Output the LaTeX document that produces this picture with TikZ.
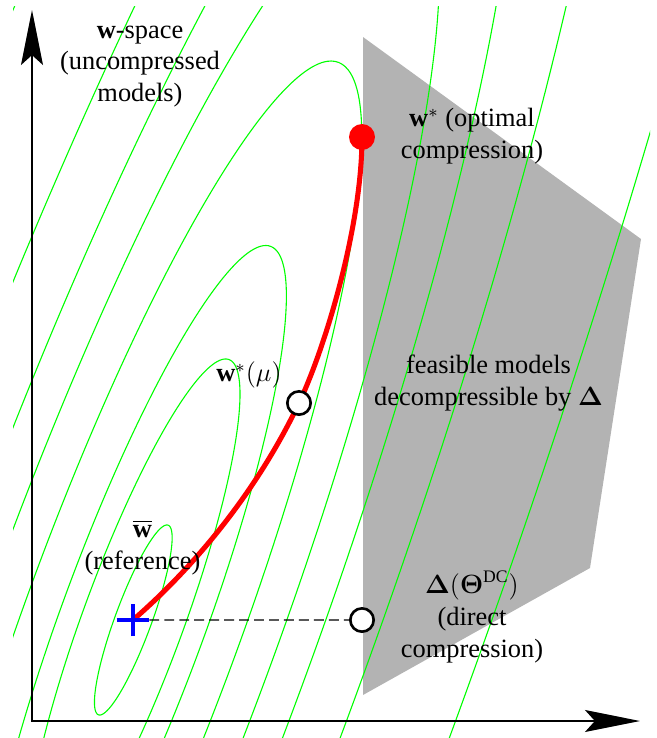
\documentclass[tikz,border=0pt]{standalone}
\usepackage{bm}
\usepackage{fontspec}
\setmainfont{Liberation Serif}
\usetikzlibrary{arrows.meta,shapes.misc}
\definecolor{contourgreen}{RGB}{0,255,0}
\definecolor{feasgray}{RGB}{179,179,179}
\begin{document}
\begin{tikzpicture}[x=0.4545pt,y=-0.4545pt,
  every node/.style={font=\fontsize{12pt}{14.5pt}\selectfont},
  contour/.style={draw=contourgreen,line width=0.5pt},
  axisline/.style={line width=0.6pt,{Stealth[length=25pt,width=10pt,inset=4.5pt]}-{Stealth[length=25pt,width=10pt,inset=4.5pt]}},
  redpath/.style={draw=red,line width=2.3pt},
  dashline/.style={draw=black,line width=0.6pt,dash pattern=on 4.5pt off 2.3pt},
  crossmk/.style={cross out,draw=blue,line width=1.8pt,minimum size=8.7pt,inner sep=0pt,rotate=45},
  openmk/.style={circle,draw=black,fill=white,line width=1.2pt,minimum size=10.6pt,inner sep=0pt},
  dotmk/.style={circle,fill=red,minimum size=11.8pt,inner sep=0pt},
  lbl/.style={align=center,inner sep=0pt,anchor=base}]
\useasboundingbox (0,0) rectangle (657,738);
% feasible set
\fill[feasgray] (363,37) -- (641,239) -- (590,568) -- (363,695) -- cycle;
% contours
\begin{scope}
  \clip (13,6) rectangle (650,738);
  \foreach \s in {0.17,0.467,0.67,1,1.34,1.68,2.18,3.13}{
    \draw[contour] plot[smooth cycle,domain=0:358,samples=180,variable=\t]
      ({133.3+\s*228.5*cos(\t)},{620-\s*559*cos(\t-30.09)});
  }
\end{scope}
% axes
\coordinate (O) at (32,721);
\coordinate (ytip) at (32,10);
\coordinate (xtip) at (640,721);
\draw[axisline] (ytip) -- (O) -- (xtip);
% key points
\coordinate (pref) at (133,620);
\coordinate (pmu) at (299,403);
\coordinate (popt) at (362,137);
\coordinate (pdc) at (362,620);
% path of w*(mu)
\draw[redpath] (pref) .. controls (201,561) and (260.4,484.3) .. (pmu)
  .. controls (324.7,348.8) and (362,227) .. (popt);
% markers
\node[crossmk] (ref) at (pref) {};
\node[openmk] (mu) at (pmu) {};
\node[dotmk] (opt) at (popt) {};
\node[openmk] (dc) at (pdc) {};
\draw[dashline] (ref) -- (dc);
% labels (anchor = baseline of the last line)
\node[lbl] (lspace) at (140,101.8) {\textbf{w}-space\\(uncompressed\\models)};
\node[lbl] (lopt) at (472,158.5) {$\mathbf{w}^*$ (optimal\\compression)};
\node[lbl] (lfeas) at (488.5,405.7) {feasible models\\decompressible by $\bm{\Delta}$};
\node[lbl] (lmu) at (249,381.7) {$\mathbf{w}^*(\mu)$};
\node[lbl] (lref) at (142.5,569) {$\overline{\mathbf{w}}$\\(reference)};
\node[lbl] (ldc) at (472,657) {$\bm{\Delta}(\bm{\Theta}^{\mathrm{DC}})$\\(direct\\compression)};
\end{tikzpicture}
\end{document}
